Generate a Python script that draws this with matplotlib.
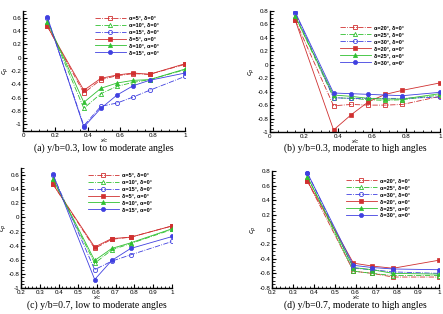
import matplotlib
matplotlib.use("Agg")
import matplotlib.pyplot as plt
from matplotlib.ticker import MultipleLocator

plt.rcParams['font.family'] = ['Liberation Sans', 'DejaVu Sans']

# Positions de mesure x/c
x_a = [0.15, 0.375, 0.48, 0.58, 0.68, 0.78, 1.0]
x_c = [0.37, 0.59, 0.68, 0.78, 1.0]

# (a) y/b=0.3, angles faibles a moderes
a_alpha5 = [0.47, -0.53, -0.33, -0.27, -0.24, -0.25, -0.10]
a_alpha10 = [0.54, -0.76, -0.54, -0.43, -0.37, -0.33, -0.18]
a_alpha15 = [0.60, -1.02, -0.73, -0.68, -0.59, -0.49, -0.28]
a_delta5 = [0.47, -0.49, -0.31, -0.26, -0.23, -0.25, -0.09]
a_delta10 = [0.54, -0.67, -0.46, -0.38, -0.34, -0.33, -0.17]
a_delta15 = [0.61, -1.04, -0.76, -0.56, -0.42, -0.34, -0.23]

# (b) y/b=0.3, angles moderes a eleves
b_alpha20 = [0.66, -0.61, -0.59, -0.60, -0.60, -0.59, -0.47]
b_alpha25 = [0.72, -0.49, -0.50, -0.52, -0.53, -0.52, -0.45]
b_alpha30 = [0.77, -0.49, -0.50, -0.50, -0.50, -0.50, -0.48]
b_delta20 = [0.66, -0.97, -0.74, -0.55, -0.44, -0.38, -0.27]
b_delta25 = [0.72, -0.45, -0.47, -0.50, -0.51, -0.51, -0.43]
b_delta30 = [0.78, -0.42, -0.43, -0.44, -0.45, -0.46, -0.41]

# (c) y/b=0.7, angles faibles a moderes
c_alpha5 = [0.47, -0.44, -0.31, -0.28, -0.12]
c_alpha10 = [0.54, -0.65, -0.46, -0.37, -0.17]
c_alpha15 = [0.60, -0.74, -0.62, -0.53, -0.34]
c_delta5 = [0.47, -0.42, -0.30, -0.28, -0.12]
c_delta10 = [0.54, -0.61, -0.44, -0.36, -0.16]
c_delta15 = [0.61, -0.88, -0.61, -0.44, -0.27]

# (d) y/b=0.7, angles moderes a eleves
d_alpha20 = [0.66, -0.57, -0.60, -0.65, -0.65]
d_alpha25 = [0.72, -0.57, -0.60, -0.63, -0.63]
d_alpha30 = [0.77, -0.53, -0.55, -0.58, -0.60]
d_delta20 = [0.66, -0.46, -0.50, -0.53, -0.42]
d_delta25 = [0.72, -0.52, -0.55, -0.60, -0.61]
d_delta30 = [0.77, -0.49, -0.52, -0.54, -0.55]

labels_low = ["α=5°, δ=0°", "α=10°, δ=0°", "α=15°, δ=0°",
              "δ=5°, α=0°", "δ=10°, α=0°", "δ=15°, α=0°"]
labels_high = ["α=20°, δ=0°", "α=25°, δ=0°", "α=30°, δ=0°",
               "δ=20°, α=0°", "δ=25°, α=0°", "δ=30°, α=0°"]

colors = ['#d03030', '#30c030', '#4040e0']
markers = ['s', '^', 'o']

fig = plt.figure(figsize=(4.43, 3.14), dpi=100)


def draw_panel(rect, x, alphas, deltas, labels, xlim, ylim, xmaj, xmin, ymaj,
               caption, cap_y, leg_anchor):
    ax = fig.add_axes(rect)
    for i in range(3):
        ax.plot(x, alphas[i], color=colors[i], linestyle='-.', linewidth=0.6,
                marker=markers[i], markersize=3, markerfacecolor='none',
                markeredgewidth=0.6, label=labels[i])
    for i in range(3):
        ax.plot(x, deltas[i], color=colors[i], linestyle='-', linewidth=0.6,
                marker=markers[i], markersize=3, markeredgewidth=0.5,
                label=labels[i + 3])
    ax.set_xlim(*xlim)
    ax.set_ylim(*ylim)
    ax.xaxis.set_major_locator(MultipleLocator(xmaj))
    ax.xaxis.set_minor_locator(MultipleLocator(xmin))
    ax.yaxis.set_major_locator(MultipleLocator(ymaj))
    ax.yaxis.set_minor_locator(MultipleLocator(ymaj / 4))
    ax.spines['top'].set_visible(False)
    ax.spines['right'].set_visible(False)
    ax.spines['left'].set_linewidth(1.0)
    ax.spines['bottom'].set_linewidth(1.0)
    ax.tick_params(direction='in', labelsize=4.5, pad=1.2, length=3, width=0.8)
    ax.tick_params(which='minor', direction='in', length=1.8, width=0.6)
    ax.xaxis.set_major_formatter(plt.FuncFormatter(lambda v, p: ('%g' % round(v, 2))))
    ax.yaxis.set_major_formatter(plt.FuncFormatter(lambda v, p: ('%g' % round(v, 2))))
    ax.set_xlabel("x/c", fontsize=4, style='italic', labelpad=0)
    ax.set_ylabel("$c_p$", fontsize=5)
    ax.yaxis.set_label_coords(-0.075, 0.5)
    leg = ax.legend(loc='upper left', bbox_to_anchor=leg_anchor, frameon=False,
                    fontsize=4, handlelength=5.5, handletextpad=0.6,
                    labelspacing=0.35, borderaxespad=0)
    for t in leg.get_texts():
        t.set_fontweight('bold')
    fig.text(rect[0] + rect[2] / 2, cap_y, caption, ha='center', va='center',
             fontsize=7, family='Liberation Serif')
    return ax


draw_panel([0.052, 1 - 131 / 314, 0.366, 120 / 314], x_a,
           [a_alpha5, a_alpha10, a_alpha15], [a_delta5, a_delta10, a_delta15],
           labels_low, (0, 1), (-1.1, 0.7), 0.2, 0.05, 0.2,
           "(a) y/b=0.3, low to moderate angles", 1 - 148 / 314, (0.43, 0.98))

draw_panel([0.609, 1 - 132 / 314, 0.384, 121 / 314], x_a,
           [b_alpha20, b_alpha25, b_alpha30], [b_delta20, b_delta25, b_delta30],
           labels_high, (0, 1), (-1.0, 0.8), 0.2, 0.05, 0.2,
           "(b) y/b=0.3, moderate to high angles", 1 - 148 / 314, (0.40, 0.90))

draw_panel([0.047, 1 - 288 / 314, 0.342, 120 / 314], x_c,
           [c_alpha5, c_alpha10, c_alpha15], [c_delta5, c_delta10, c_delta15],
           labels_low, (0.2, 1), (-1.0, 0.7), 0.1, 0.02, 0.2,
           "(c) y/b=0.7, low to moderate angles", 1 - 305 / 314, (0.43, 0.98))

draw_panel([0.614, 1 - 288 / 314, 0.377, 117 / 314], x_c,
           [d_alpha20, d_alpha25, d_alpha30], [d_delta20, d_delta25, d_delta30],
           labels_high, (0.2, 1), (-0.8, 0.8), 0.1, 0.02, 0.2,
           "(d) y/b=0.7, moderate to high angles", 1 - 305 / 314, (0.43, 0.96))

fig.savefig("out.png", dpi=100)
